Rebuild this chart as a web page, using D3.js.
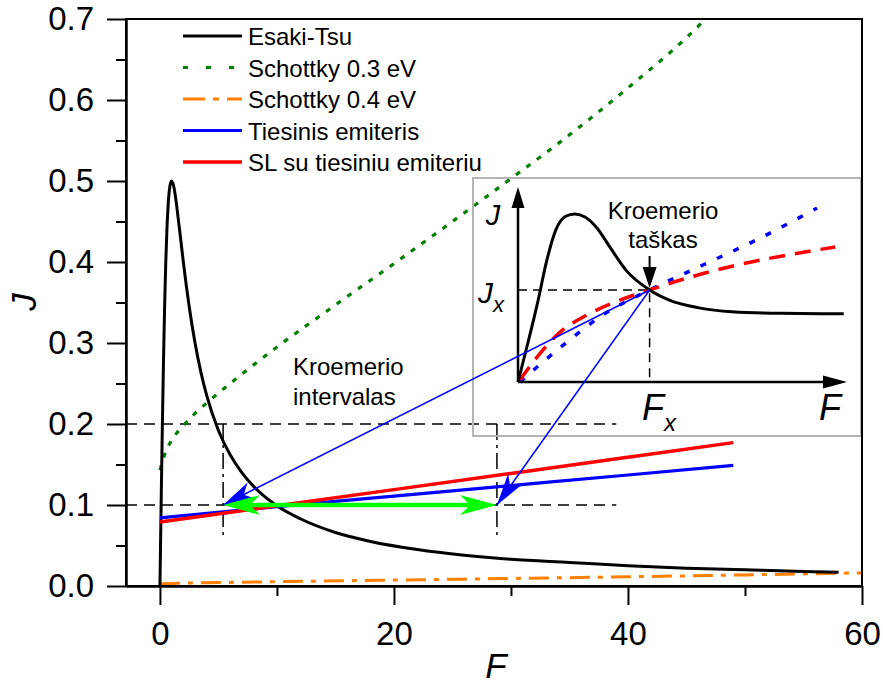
<!DOCTYPE html>
<html>
<head>
<meta charset="utf-8">
<script src="https://cdn.jsdelivr.net/npm/d3@7"></script>
<style>
  body { margin: 0; background: #fff; }
  text { font-family: "Liberation Sans", Arial, sans-serif; fill: #000; }
</style>
</head>
<body>
<svg id="chart" width="883" height="684"></svg>
<script>
// ---- Main panel data: current density J versus field F ----
const esakiF = [0, 0.1, 0.2, 0.3, 0.4, 0.5, 0.6, 0.7, 0.8, 0.9, 1.0, 1.2, 1.4, 1.6, 1.8, 2, 2.5, 3, 3.5, 4, 5, 6, 7, 8, 10, 12, 15, 18, 22, 26, 30, 35, 40, 45, 50, 55, 58];
const esakiJ = [0, 0.099, 0.192, 0.275, 0.345, 0.4, 0.441, 0.47, 0.488, 0.497, 0.5, 0.492, 0.473, 0.449, 0.425, 0.4, 0.345, 0.3, 0.264, 0.235, 0.192, 0.162, 0.14, 0.123, 0.099, 0.083, 0.066, 0.055, 0.045, 0.038, 0.033, 0.029, 0.025, 0.022, 0.02, 0.018, 0.017];

const schottky03F = [0, 0.5, 1, 2, 3, 4, 6, 8, 10, 15, 20, 25, 30, 35, 40, 45, 48];
const schottky03J = [0.143, 0.166, 0.180, 0.198, 0.213, 0.226, 0.250, 0.273, 0.295, 0.347, 0.398, 0.450, 0.503, 0.557, 0.615, 0.677, 0.72];

const schottky04F = [0, 0.5, 2, 5, 10, 20, 30, 40, 50, 60];
const schottky04J = [0.0025, 0.003, 0.0036, 0.0042, 0.0053, 0.0073, 0.0093, 0.0114, 0.0137, 0.0162];

const emitterF = [0, 10, 20, 30, 40, 49];
const emitterJ = [0.084, 0.098, 0.111, 0.124, 0.137, 0.149];

const slF = [0, 10, 20, 30, 40, 49];
const slJ = [0.079, 0.099, 0.119, 0.139, 0.159, 0.177];

// Kroemer interval: bounds in F and the current level
const intervalF = [5.4, 28.8];
const intervalJ = 0.1;
const guideLevels = [0.1, 0.2];
const guideEndF = 39;
const guideBottomJ = 0.057;

// Axis ticks
const xTicks = [0, 20, 40, 60];
const xMinorTicks = [10, 30, 50];
const yTicks = [0, 0.1, 0.2, 0.3, 0.4, 0.5, 0.6, 0.7];
const yMinorTicks = [0.05, 0.15, 0.25, 0.35, 0.45, 0.55, 0.65];

const legendLabels = ["Esaki-Tsu", "Schottky 0.3 eV", "Schottky 0.4 eV", "Tiesinis emiteris", "SL su tiesiniu emiteriu"];

// ---- Inset sketch data (arbitrary units) ----
const insetBlackF = [0, 0.3, 0.6, 0.87, 1.15, 1.45, 1.73, 2.05, 2.4, 2.8, 3.3, 4.0, 4.6, 5.5, 6.5, 8, 9.9];
const insetBlackJ = [0, 0.2, 0.41, 0.62, 0.78, 0.85, 0.862, 0.845, 0.79, 0.69, 0.57, 0.472, 0.42, 0.38, 0.36, 0.352, 0.35];
const insetRedF = [0.06, 0.58, 1.28, 2.1, 3.1, 4.0, 5.14, 6.66, 8.18, 9.64];
const insetRedJ = [0.01, 0.128, 0.256, 0.344, 0.42, 0.472, 0.533, 0.6, 0.651, 0.692];
const insetBlueF = [0.06, 0.58, 1.49, 2.58, 4.0, 5.62, 7.36, 9.09];
const insetBlueJ = [0, 0.077, 0.205, 0.344, 0.472, 0.6, 0.738, 0.892];
const crossF = 4.0, crossJ = 0.472;

// ---- Scales ----
const svg = d3.select("#chart");
const x = d3.scaleLinear().domain([-2.9, 60]).range([126, 862]);
const y = d3.scaleLinear().domain([0, 0.7]).range([586, 19]);
const ix = d3.scaleLinear().domain([0, 10]).range([518, 847]);
const iy = d3.scaleLinear().domain([0, 1]).range([382, 187]);

svg.append("defs").append("clipPath").attr("id", "plot-clip")
  .append("rect").attr("x", 126).attr("y", 19).attr("width", 736).attr("height", 567);

const zip = (a, b) => a.map((v, i) => [v, b[i]]);
const line = d3.line().x(d => x(d[0])).y(d => y(d[1])).curve(d3.curveMonotoneX);
const iline = d3.line().x(d => ix(d[0])).y(d => iy(d[1])).curve(d3.curveMonotoneX);

// Arrowhead polygon pointing at `tip`, coming from `from`
function arrowHead(tip, from, len, halfW, notch) {
  const dx = tip[0] - from[0], dy = tip[1] - from[1];
  const d = Math.hypot(dx, dy), ux = dx / d, uy = dy / d;
  const bx = tip[0] - ux * len, by = tip[1] - uy * len;
  const nx = -uy, ny = ux;
  const nPt = [tip[0] - ux * len * notch, tip[1] - uy * len * notch];
  return `M${tip[0]},${tip[1]}L${bx + nx * halfW},${by + ny * halfW}L${nPt[0]},${nPt[1]}L${bx - nx * halfW},${by - ny * halfW}Z`;
}

// ---- Guide lines ----
const guides = svg.append("g").attr("stroke", "#000").attr("stroke-width", 1.5).attr("fill", "none");
guideLevels.forEach(j => {
  guides.append("line")
    .attr("x1", x(-2.9)).attr("x2", x(guideEndF))
    .attr("y1", y(j)).attr("y2", y(j))
    .attr("stroke-dasharray", "11,7");
});
intervalF.forEach(f => {
  guides.append("line")
    .attr("x1", x(f)).attr("x2", x(f))
    .attr("y1", y(0.2)).attr("y2", y(guideBottomJ))
    .attr("stroke-dasharray", "16,5,3,5");
});

// ---- Curves ----
const plot = svg.append("g").attr("clip-path", "url(#plot-clip)").attr("fill", "none");
plot.append("path").datum(zip(schottky04F, schottky04J)).attr("d", line)
  .attr("stroke", "#ff7f00").attr("stroke-width", 3).attr("stroke-dasharray", "20,8,5,8");
plot.append("path").datum(zip(schottky03F, schottky03J)).attr("d", line)
  .attr("stroke", "#008000").attr("stroke-width", 3.2).attr("stroke-dasharray", "5,8");
plot.append("path").datum(zip(esakiF, esakiJ)).attr("d", line)
  .attr("stroke", "#000").attr("stroke-width", 3);
plot.append("path").datum(zip(emitterF, emitterJ)).attr("d", line)
  .attr("stroke", "#0000ff").attr("stroke-width", 3.2);
plot.append("path").datum(zip(slF, slJ)).attr("d", line)
  .attr("stroke", "#ff0000").attr("stroke-width", 3.5);

// ---- Inset ----
const inset = svg.append("g");
inset.append("rect").attr("x", 473).attr("y", 178).attr("width", 388).attr("height", 258)
  .attr("fill", "none").attr("stroke", "#b4b4b4").attr("stroke-width", 2);
// guides to the crossing point
inset.append("path")
  .attr("d", `M${ix(0)},${iy(crossJ)}H${ix(crossF)}V${iy(0)}`)
  .attr("fill", "none").attr("stroke", "#000").attr("stroke-width", 1.5).attr("stroke-dasharray", "9,6");
inset.append("path").datum(zip(insetBlueF, insetBlueJ)).attr("d", iline)
  .attr("fill", "none").attr("stroke", "#0000ff").attr("stroke-width", 3.5).attr("stroke-dasharray", "6,12");
inset.append("path").datum(zip(insetRedF, insetRedJ)).attr("d", iline)
  .attr("fill", "none").attr("stroke", "#ff0000").attr("stroke-width", 3.5).attr("stroke-dasharray", "16,10");
inset.append("path").datum(zip(insetBlackF, insetBlackJ)).attr("d", iline)
  .attr("fill", "none").attr("stroke", "#000").attr("stroke-width", 3);
// inset axes with arrowheads
inset.append("path").attr("d", `M${ix(0)},${iy(0)}V${iy(1) + 15}M${ix(0)},${iy(0)}H${ix(10) - 18}`)
  .attr("stroke", "#000").attr("stroke-width", 2.5).attr("fill", "none");
inset.append("path").attr("d", arrowHead([ix(0), iy(1)], [ix(0), iy(0)], 21, 6.5, 1)).attr("fill", "#000");
inset.append("path").attr("d", arrowHead([ix(10), iy(0)], [ix(0), iy(0)], 24, 6.5, 1)).attr("fill", "#000");
// pointer to the Kroemer point
const cx = ix(crossF), cy = iy(crossJ);
inset.append("line").attr("x1", cx).attr("x2", cx).attr("y1", 256).attr("y2", cy - 18)
  .attr("stroke", "#000").attr("stroke-width", 2);
inset.append("path").attr("d", arrowHead([cx, cy - 2], [cx, 256], 21, 7, 1)).attr("fill", "#000");

// inset labels
const it = inset.append("g").attr("font-style", "italic");
it.append("text").attr("x", 493).attr("y", 225).attr("text-anchor", "middle").attr("font-size", 29).text("J");
const jx = it.append("text").attr("x", 478).attr("y", 303).attr("font-size", 30);
jx.append("tspan").text("J");
jx.append("tspan").attr("font-size", 22).attr("dy", 9).text("x");
const fx = it.append("text").attr("x", 642).attr("y", 420).attr("font-size", 36);
fx.append("tspan").text("F");
fx.append("tspan").attr("font-size", 24).attr("dy", 11).text("x");
it.append("text").attr("x", 819).attr("y", 420).attr("font-size", 36).text("F");
inset.append("text").attr("x", 663).attr("y", 219).attr("text-anchor", "middle").attr("font-size", 24).text("Kroemerio");
inset.append("text").attr("x", 663).attr("y", 248).attr("text-anchor", "middle").attr("font-size", 24).text("taškas");

// ---- Blue pointers from inset to the interval ends ----
const ptrs = svg.append("g");
intervalF.forEach(f => {
  const tip = [x(f), y(intervalJ)];
  ptrs.append("line").attr("x1", cx).attr("y1", cy).attr("x2", tip[0]).attr("y2", tip[1])
    .attr("stroke", "#0000ff").attr("stroke-width", 1.5);
  ptrs.append("path").attr("d", arrowHead(tip, [cx, cy], 32, 9, 0.72)).attr("fill", "#0000ff");
});

// ---- Green double arrow across the interval ----
const gL = [x(intervalF[0]), y(intervalJ)], gR = [x(intervalF[1]), y(intervalJ)];
svg.append("line").attr("x1", gL[0] + 20).attr("x2", gR[0] - 20).attr("y1", gL[1]).attr("y2", gR[1])
  .attr("stroke", "#00ff00").attr("stroke-width", 4.5);
svg.append("path").attr("d", arrowHead(gL, gR, 37, 10, 0.72)).attr("fill", "#00ff00");
svg.append("path").attr("d", arrowHead(gR, gL, 37, 10, 0.72)).attr("fill", "#00ff00");

svg.append("text").attr("x", 293).attr("y", 375).attr("font-size", 24).text("Kroemerio");
svg.append("text").attr("x", 293).attr("y", 405).attr("font-size", 24).text("intervalas");

// ---- Legend ----
const legendStyles = [
  { stroke: "#000", dash: null, w: 3 },
  { stroke: "#008000", dash: "5,18", w: 3.2 },
  { stroke: "#ff7f00", dash: "22,8,6,8", w: 3 },
  { stroke: "#0000ff", dash: null, w: 3.2 },
  { stroke: "#ff0000", dash: null, w: 3.5 }
];
const legendRows = [36, 67.5, 99, 130.5, 162];
const legend = svg.append("g");
legendLabels.forEach((lab, i) => {
  const s = legendStyles[i], ly = legendRows[i];
  legend.append("line").attr("x1", 183).attr("x2", 242).attr("y1", ly).attr("y2", ly)
    .attr("stroke", s.stroke).attr("stroke-width", s.w).attr("stroke-dasharray", s.dash);
  legend.append("text").attr("x", 248).attr("y", ly + 9).attr("font-size", 24).text(lab);
});

// ---- Axes and frame ----
svg.append("rect").attr("x", 126).attr("y", 19).attr("width", 736).attr("height", 567)
  .attr("fill", "none").attr("stroke", "#000").attr("stroke-width", 2);

const xAxis = svg.append("g").attr("transform", "translate(0,586)")
  .call(d3.axisBottom(x).tickValues(xTicks).tickSize(19).tickSizeOuter(0).tickPadding(17).tickFormat(d3.format("d")));
svg.append("g").attr("transform", "translate(0,586)")
  .call(d3.axisBottom(x).tickValues(xMinorTicks).tickSize(10).tickSizeOuter(0).tickFormat(""));
const yAxis = svg.append("g").attr("transform", "translate(126,0)")
  .call(d3.axisLeft(y).tickValues(yTicks).tickSize(19).tickSizeOuter(0).tickPadding(13).tickFormat(d3.format(".1f")));
svg.append("g").attr("transform", "translate(126,0)")
  .call(d3.axisLeft(y).tickValues(yMinorTicks).tickSize(10).tickSizeOuter(0).tickFormat(""));

svg.selectAll(".domain").attr("stroke", "#000").attr("stroke-width", 2);
svg.selectAll(".tick line").attr("stroke", "#000").attr("stroke-width", 2);
svg.selectAll(".tick text").attr("font-size", 33).attr("fill", "#000")
  .attr("font-family", "'Liberation Sans', Arial, sans-serif");

svg.append("text").attr("x", 496).attr("y", 678).attr("text-anchor", "middle")
  .attr("font-size", 35).attr("font-style", "italic").text("F");
svg.append("text").attr("transform", "translate(36,302) rotate(-90)").attr("text-anchor", "middle")
  .attr("font-size", 35).attr("font-style", "italic").text("J");
</script>
</body>
</html>
